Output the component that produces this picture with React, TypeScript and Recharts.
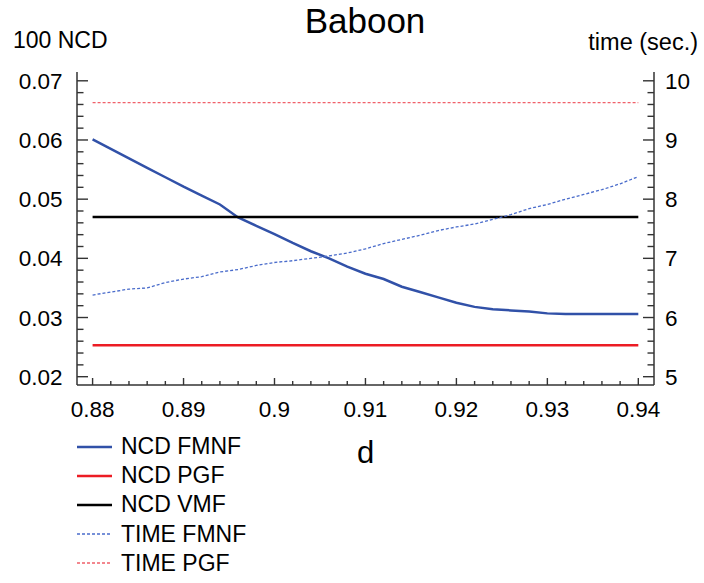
import React from 'react';
import { ComposedChart, Line, XAxis, YAxis, Legend } from 'recharts';

// d grid (x) and curves
const D_VALUES = [
  0.88, 0.882, 0.884, 0.886, 0.888, 0.89, 0.892, 0.894, 0.896, 0.898, 0.9,
  0.902, 0.904, 0.906, 0.908, 0.91, 0.912, 0.914, 0.916, 0.918, 0.92,
  0.922, 0.924, 0.926, 0.928, 0.93, 0.932, 0.934, 0.936, 0.938, 0.94,
];
const NCD_FMNF = [
  0.0601, 0.0585, 0.0569, 0.0553, 0.0537, 0.0521, 0.0506, 0.0491, 0.0469, 0.0455, 0.0441,
  0.0426, 0.0412, 0.04, 0.0386, 0.0374, 0.0365, 0.0352, 0.0343, 0.0334, 0.0325,
  0.0318, 0.0314, 0.0312, 0.031, 0.0307, 0.0306, 0.0306, 0.0306, 0.0306, 0.0306,
];
const TIME_FMNF = [
  6.38, 6.43, 6.48, 6.5, 6.59, 6.65, 6.69, 6.77, 6.81, 6.88, 6.93,
  6.96, 7.0, 7.04, 7.09, 7.16, 7.25, 7.32, 7.39, 7.47, 7.53,
  7.58, 7.66, 7.74, 7.84, 7.91, 8.0, 8.08, 8.16, 8.26, 8.38,
];
// flat series: two end points
const FLAT_D = [0.88, 0.94];
const NCD_PGF = [0.0253, 0.0253];
const NCD_VMF = [0.047, 0.047];
const TIME_PGF = [9.63, 9.63];

const D_TICKS = [0.88, 0.89, 0.9, 0.91, 0.92, 0.93, 0.94];
const NCD_TICKS = [0.02, 0.03, 0.04, 0.05, 0.06, 0.07];
const TIME_TICKS = [5, 6, 7, 8, 9, 10];

const FONT = '"Liberation Sans", Arial, sans-serif';
const AXIS = '#333';
const TM = 10;

const BLUE = '#3151a8';
const BLUE_DOT = '#4a6ccb';
const RED = '#ec1c24';
const RED_DOT = '#f0606a';

const SERIES = [
  { name: 'NCD FMNF', color: BLUE, dash: undefined as string | undefined },
  { name: 'NCD PGF', color: RED, dash: undefined },
  { name: 'NCD VMF', color: '#000', dash: undefined },
  { name: 'TIME FMNF', color: BLUE_DOT, dash: '3 2' },
  { name: 'TIME PGF', color: RED_DOT, dash: '3 2' },
];

function subdivide(major: number[], n: number) {
  const out: number[] = [];
  for (let i = 0; i < major.length - 1; i++) {
    for (let k = 0; k < n; k++) {
      out.push(+(major[i] + ((major[i + 1] - major[i]) * k) / n).toFixed(6));
    }
  }
  out.push(major[major.length - 1]);
  return out;
}

const isMajor = (v: number, majors: number[]) => majors.some((m) => Math.abs(m - v) < 1e-9);

const mainData = D_VALUES.map((d, i) => ({ d, ncdFmnf: NCD_FMNF[i], timeFmnf: TIME_FMNF[i] }));
const pgfData = FLAT_D.map((d, i) => ({ d, ncdPgf: NCD_PGF[i], timePgf: TIME_PGF[i] }));
const vmfData = FLAT_D.map((d, i) => ({ d, ncdVmf: NCD_VMF[i] }));

const textStyle = { fontFamily: FONT, fill: '#000' };

function BottomTick(props: any) {
  const { x, y, payload } = props;
  const major = isMajor(payload.value, D_TICKS);
  const ay = y - TM;
  return (
    <g>
      <line x1={x} x2={x} y1={ay} y2={ay - (major ? 7 : 4)} stroke={AXIS} strokeWidth={1.4} />
      {major && (
        <text x={x} y={ay + 31.5} textAnchor="middle" fontSize={22.5} style={textStyle}>
          {String(payload.value)}
        </text>
      )}
    </g>
  );
}

function TopTick(props: any) {
  const { x, y, payload } = props;
  const major = isMajor(payload.value, D_TICKS);
  const ay = y + TM;
  return <line x1={x} x2={x} y1={ay} y2={ay + (major ? 7 : 4)} stroke={AXIS} strokeWidth={1.4} />;
}

function LeftTick(props: any) {
  const { x, y, payload } = props;
  const major = isMajor(payload.value, NCD_TICKS);
  const ax = x + TM;
  return (
    <g>
      <line x1={ax} x2={ax + (major ? 11 : 6.5)} y1={y} y2={y} stroke={AXIS} strokeWidth={1.4} />
      {major && (
        <text x={ax - 14.5} y={y + 8} textAnchor="end" fontSize={22.5} style={textStyle}>
          {String(payload.value)}
        </text>
      )}
    </g>
  );
}

function RightTick(props: any) {
  const { x, y, payload } = props;
  const major = isMajor(payload.value, TIME_TICKS);
  const ax = x - TM;
  return (
    <g>
      <line x1={ax} x2={ax - (major ? 11 : 6.5)} y1={y} y2={y} stroke={AXIS} strokeWidth={1.4} />
      {major && (
        <text x={ax + 11} y={y + 8} textAnchor="start" fontSize={22.5} style={textStyle}>
          {String(payload.value)}
        </text>
      )}
    </g>
  );
}

function LegendBox() {
  return (
    <div style={{ fontFamily: FONT }}>
      {SERIES.map((s) => (
        <div key={s.name} style={{ display: 'flex', alignItems: 'center', height: 29.2 }}>
          <svg width={35} height={10} style={{ marginRight: 9 }}>
            <line
              x1={0}
              x2={35}
              y1={5}
              y2={5}
              stroke={s.color}
              strokeWidth={s.dash ? 1.3 : 2.5}
              strokeDasharray={s.dash}
            />
          </svg>
          <span style={{ fontSize: 23, color: '#000', lineHeight: '29px' }}>{s.name}</span>
        </div>
      ))}
    </div>
  );
}

export default function App() {
  const dTicks = subdivide(D_TICKS, 5);
  const ncdTicks = subdivide(NCD_TICKS, 5);
  const timeTicks = subdivide(TIME_TICKS, 5);
  const xDomain = [0.878286, 0.941725];
  return (
    <div style={{ position: 'absolute', left: 0, top: 0, width: 704, height: 583, background: '#fff' }}>
      <ComposedChart
        width={704}
        height={583}
        data={mainData}
        margin={{ top: 72, right: 0, bottom: 158, left: 17 }}
      >
        <XAxis
          xAxisId="bottom"
          dataKey="d"
          type="number"
          domain={xDomain}
          allowDataOverflow
          ticks={dTicks}
          interval={0}
          height={40}
          tickSize={0}
          tickMargin={TM}
          tickLine={false}
          axisLine={{ stroke: AXIS, strokeWidth: 1.5 }}
          tick={<BottomTick />}
          label={{ value: 'd', position: 'bottom', offset: 16, fontSize: 31, fill: '#000', fontFamily: FONT }}
        />
        <XAxis
          xAxisId="top"
          dataKey="d"
          type="number"
          orientation="top"
          domain={xDomain}
          allowDataOverflow
          ticks={dTicks}
          interval={0}
          height={0}
          tickSize={0}
          tickMargin={TM}
          tickLine={false}
          axisLine={{ stroke: AXIS, strokeWidth: 1.5 }}
          tick={<TopTick />}
        />
        <YAxis
          yAxisId="left"
          type="number"
          domain={[0.018597, 0.071487]}
          allowDataOverflow
          ticks={ncdTicks}
          interval={0}
          width={60}
          tickSize={0}
          tickMargin={TM}
          tickLine={false}
          axisLine={{ stroke: AXIS, strokeWidth: 1.5 }}
          tick={<LeftTick />}
        />
        <YAxis
          yAxisId="right"
          orientation="right"
          type="number"
          domain={[4.8597, 10.1487]}
          allowDataOverflow
          ticks={timeTicks}
          interval={0}
          width={50}
          tickSize={0}
          tickMargin={TM}
          tickLine={false}
          axisLine={{ stroke: AXIS, strokeWidth: 1.5 }}
          tick={<RightTick />}
        />
        <Legend
          layout="vertical"
          align="center"
          verticalAlign="middle"
          content={<LegendBox />}
          wrapperStyle={{ position: 'absolute', left: 77, top: 432, width: 'auto' }}
        />
        <Line
          xAxisId="bottom"
          yAxisId="left"
          data={mainData}
          dataKey="ncdFmnf"
          name="NCD FMNF"
          stroke={BLUE}
          strokeWidth={2.5}
          dot={false}
          isAnimationActive={false}
        />
        <Line
          xAxisId="bottom"
          yAxisId="left"
          data={pgfData}
          dataKey="ncdPgf"
          name="NCD PGF"
          stroke={RED}
          strokeWidth={2.5}
          dot={false}
          isAnimationActive={false}
        />
        <Line
          xAxisId="bottom"
          yAxisId="left"
          data={vmfData}
          dataKey="ncdVmf"
          name="NCD VMF"
          stroke="#000"
          strokeWidth={2.5}
          dot={false}
          isAnimationActive={false}
        />
        <Line
          xAxisId="bottom"
          yAxisId="right"
          data={mainData}
          dataKey="timeFmnf"
          name="TIME FMNF"
          stroke={BLUE_DOT}
          strokeWidth={1.3}
          strokeDasharray="3 2"
          dot={false}
          isAnimationActive={false}
        />
        <Line
          xAxisId="bottom"
          yAxisId="right"
          data={pgfData}
          dataKey="timePgf"
          name="TIME PGF"
          stroke={RED_DOT}
          strokeWidth={1.3}
          strokeDasharray="3 2"
          dot={false}
          isAnimationActive={false}
        />
        <text x={365} y={33} textAnchor="middle" fontSize={35} style={textStyle}>
          Baboon
        </text>
        <text x={13} y={48} fontSize={23} style={textStyle}>
          100 NCD
        </text>
        <text x={698} y={50} textAnchor="end" fontSize={23.5} style={textStyle}>
          time (sec.)
        </text>
      </ComposedChart>
    </div>
  );
}
